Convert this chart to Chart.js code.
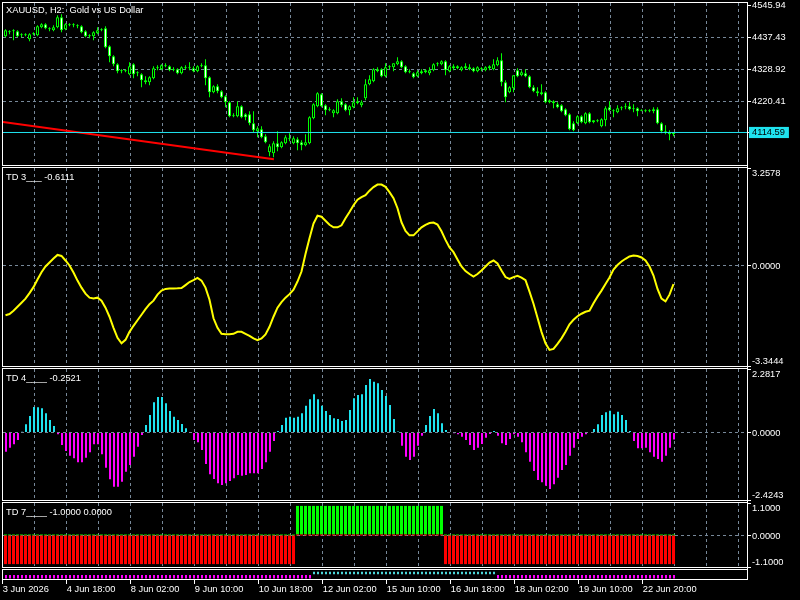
<!DOCTYPE html>
<html>
<head>
<meta charset="utf-8">
<script src="https://cdn.jsdelivr.net/npm/chart.js@4.4.1/dist/chart.umd.min.js"></script>
<style>
  html, body { margin: 0; padding: 0; background: #000; }
  #wrap { position: relative; width: 800px; height: 600px; background: #000; overflow: hidden; }
  #wrap canvas { position: absolute; left: 0; top: 0; }
</style>
</head>
<body>
<div id="wrap">
  <canvas id="price" width="800" height="600"></canvas>
  <canvas id="td3" width="800" height="600"></canvas>
  <canvas id="td4" width="800" height="600"></canvas>
  <canvas id="td7" width="800" height="600"></canvas>
  <canvas id="sig" width="800" height="600"></canvas>
</div>
<script>
// XAUUSD H2, 168 bars
const openP = [
  4440.8, 4454.4, 4457.8, 4457.8, 4444.2, 4444.2, 4430.6, 4447.6, 4444.2, 4471.3,
  4481.5, 4467.9, 4461.2, 4471.3, 4505.2, 4464.6, 4481.5, 4478.1, 4478.1, 4474.7,
  4457.8, 4444.2, 4440.8, 4451.0, 4461.2, 4467.9, 4406.9, 4373.0, 4345.9, 4322.1,
  4322.1, 4312.0, 4345.9, 4315.4, 4312.0, 4291.6, 4284.8, 4298.4, 4332.3, 4328.9,
  4339.1, 4339.1, 4325.5, 4328.9, 4315.4, 4335.7, 4332.3, 4332.3, 4322.1, 4339.1,
  4342.5, 4301.8, 4250.9, 4271.3, 4254.3, 4237.4, 4217.0, 4172.9, 4169.5, 4203.5,
  4176.3, 4176.3, 4145.8, 4118.7, 4125.5, 4101.7, 4047.5, 4044.1, 4078.0, 4064.4,
  4078.0, 4091.6, 4078.0, 4091.6, 4081.4, 4071.2, 4078.0, 4162.8, 4203.5, 4244.1,
  4206.8, 4189.9, 4179.7, 4179.7, 4220.4, 4210.2, 4189.9, 4200.1, 4213.6, 4206.8,
  4230.6, 4278.1, 4288.2, 4328.9, 4328.9, 4305.2, 4335.7, 4335.7, 4345.9, 4356.0,
  4339.1, 4322.1, 4315.4, 4305.2, 4315.4, 4318.7, 4315.4, 4325.5, 4345.9, 4345.9,
  4356.0, 4322.1, 4339.1, 4332.3, 4325.5, 4332.3, 4335.7, 4332.3, 4322.1, 4332.3,
  4325.5, 4332.3, 4328.9, 4342.5, 4359.4, 4284.8, 4250.9, 4264.5, 4325.5, 4308.6,
  4315.4, 4305.2, 4267.9, 4254.3, 4250.9, 4250.9, 4223.8, 4220.4, 4210.2, 4206.8,
  4193.3, 4176.3, 4145.8, 4145.8, 4169.5, 4145.8, 4179.7, 4149.2, 4156.0, 4135.6,
  4156.0, 4200.1, 4189.9, 4183.1, 4200.1, 4200.1, 4203.5, 4196.7, 4196.7, 4189.9,
  4189.9, 4189.9, 4186.5, 4193.3, 4145.8, 4118.7, 4115.3, 4108.5
];
const highP = [
  4464.6, 4461.2, 4464.6, 4461.2, 4451.0, 4451.0, 4451.0, 4454.4, 4478.1, 4484.9,
  4484.9, 4471.3, 4478.1, 4512.0, 4515.4, 4484.9, 4484.9, 4484.9, 4481.5, 4478.1,
  4461.2, 4447.6, 4457.8, 4471.3, 4467.9, 4474.7, 4410.3, 4376.4, 4349.3, 4328.9,
  4328.9, 4352.7, 4349.3, 4322.1, 4315.4, 4305.2, 4305.2, 4339.1, 4342.5, 4345.9,
  4349.3, 4342.5, 4335.7, 4332.3, 4339.1, 4342.5, 4352.7, 4339.1, 4342.5, 4349.3,
  4362.8, 4305.2, 4274.7, 4278.1, 4257.7, 4240.8, 4220.4, 4179.7, 4220.4, 4206.8,
  4179.7, 4186.5, 4186.5, 4135.6, 4135.6, 4108.5, 4074.6, 4084.8, 4118.7, 4084.8,
  4105.1, 4111.9, 4101.7, 4098.3, 4088.2, 4108.5, 4169.5, 4213.6, 4250.9, 4247.5,
  4210.2, 4200.1, 4193.3, 4227.2, 4230.6, 4213.6, 4206.8, 4234.0, 4234.0, 4223.8,
  4295.0, 4308.6, 4332.3, 4335.7, 4332.3, 4349.3, 4342.5, 4349.3, 4369.6, 4359.4,
  4342.5, 4328.9, 4318.7, 4325.5, 4328.9, 4328.9, 4335.7, 4349.3, 4352.7, 4359.4,
  4359.4, 4342.5, 4345.9, 4342.5, 4339.1, 4349.3, 4345.9, 4335.7, 4339.1, 4335.7,
  4339.1, 4342.5, 4362.8, 4369.6, 4383.2, 4291.6, 4271.3, 4308.6, 4332.3, 4325.5,
  4328.9, 4308.6, 4274.7, 4267.9, 4278.1, 4254.3, 4227.2, 4223.8, 4217.0, 4210.2,
  4196.7, 4179.7, 4152.6, 4172.9, 4172.9, 4183.1, 4183.1, 4156.0, 4159.4, 4162.8,
  4203.5, 4220.4, 4193.3, 4206.8, 4203.5, 4213.6, 4217.0, 4210.2, 4200.1, 4193.3,
  4193.3, 4193.3, 4200.1, 4200.1, 4149.2, 4139.0, 4122.1, 4115.3
];
const lowP = [
  4437.4, 4447.6, 4427.3, 4437.4, 4437.4, 4440.8, 4423.9, 4444.2, 4440.8, 4467.9,
  4464.6, 4457.8, 4457.8, 4467.9, 4454.4, 4461.2, 4474.7, 4471.3, 4467.9, 4451.0,
  4437.4, 4434.0, 4427.3, 4447.6, 4457.8, 4400.1, 4352.7, 4339.1, 4315.4, 4315.4,
  4318.7, 4308.6, 4298.4, 4305.2, 4267.9, 4278.1, 4274.7, 4295.0, 4325.5, 4325.5,
  4335.7, 4322.1, 4322.1, 4312.0, 4312.0, 4328.9, 4325.5, 4318.7, 4318.7, 4335.7,
  4274.7, 4234.0, 4247.5, 4247.5, 4230.6, 4200.1, 4166.2, 4166.2, 4166.2, 4162.8,
  4156.0, 4139.0, 4115.3, 4098.3, 4094.9, 4078.0, 4033.9, 4030.5, 4050.9, 4061.0,
  4074.6, 4084.8, 4074.6, 4054.3, 4054.3, 4067.8, 4074.6, 4159.4, 4200.1, 4200.1,
  4172.9, 4186.5, 4166.2, 4176.3, 4200.1, 4186.5, 4172.9, 4196.7, 4210.2, 4200.1,
  4223.8, 4274.7, 4284.8, 4318.7, 4301.8, 4301.8, 4328.9, 4322.1, 4342.5, 4332.3,
  4315.4, 4315.4, 4298.4, 4301.8, 4312.0, 4315.4, 4308.6, 4322.1, 4339.1, 4342.5,
  4308.6, 4318.7, 4325.5, 4328.9, 4322.1, 4328.9, 4325.5, 4318.7, 4318.7, 4322.1,
  4322.1, 4325.5, 4325.5, 4339.1, 4271.3, 4217.0, 4247.5, 4250.9, 4301.8, 4305.2,
  4301.8, 4264.5, 4250.9, 4237.4, 4240.8, 4213.6, 4213.6, 4196.7, 4196.7, 4183.1,
  4169.5, 4122.1, 4118.7, 4142.4, 4145.8, 4142.4, 4145.8, 4145.8, 4149.2, 4132.2,
  4135.6, 4186.5, 4166.2, 4179.7, 4189.9, 4193.3, 4189.9, 4183.1, 4169.5, 4186.5,
  4183.1, 4183.1, 4179.7, 4142.4, 4111.9, 4108.5, 4088.2, 4101.7
];
const closeP = [
  4461.2, 4457.8, 4461.2, 4440.8, 4447.6, 4447.6, 4447.6, 4451.0, 4474.7, 4481.5,
  4467.9, 4464.6, 4471.3, 4505.2, 4461.2, 4481.5, 4478.1, 4481.5, 4474.7, 4454.4,
  4440.8, 4440.8, 4454.4, 4461.2, 4464.6, 4403.5, 4373.0, 4345.9, 4322.1, 4325.5,
  4325.5, 4339.1, 4312.0, 4318.7, 4291.6, 4284.8, 4301.8, 4332.3, 4335.7, 4342.5,
  4342.5, 4325.5, 4328.9, 4315.4, 4335.7, 4332.3, 4335.7, 4322.1, 4339.1, 4342.5,
  4298.4, 4250.9, 4271.3, 4254.3, 4234.0, 4217.0, 4169.5, 4169.5, 4203.5, 4166.2,
  4166.2, 4145.8, 4122.1, 4128.9, 4098.3, 4081.4, 4067.8, 4078.0, 4064.4, 4081.4,
  4098.3, 4094.9, 4094.9, 4078.0, 4071.2, 4081.4, 4166.2, 4210.2, 4247.5, 4203.5,
  4189.9, 4193.3, 4189.9, 4220.4, 4206.8, 4189.9, 4203.5, 4217.0, 4220.4, 4217.0,
  4278.1, 4295.0, 4328.9, 4322.1, 4305.2, 4335.7, 4339.1, 4349.3, 4356.0, 4335.7,
  4318.7, 4318.7, 4301.8, 4318.7, 4322.1, 4325.5, 4325.5, 4345.9, 4349.3, 4356.0,
  4325.5, 4339.1, 4332.3, 4339.1, 4335.7, 4339.1, 4328.9, 4322.1, 4335.7, 4328.9,
  4335.7, 4339.1, 4345.9, 4359.4, 4284.8, 4234.0, 4267.9, 4308.6, 4305.2, 4318.7,
  4305.2, 4267.9, 4254.3, 4247.5, 4244.1, 4217.0, 4217.0, 4213.6, 4200.1, 4186.5,
  4172.9, 4125.5, 4122.1, 4169.5, 4149.2, 4179.7, 4149.2, 4156.0, 4152.6, 4159.4,
  4196.7, 4189.9, 4186.5, 4196.7, 4196.7, 4203.5, 4193.3, 4193.3, 4186.5, 4188.5,
  4186.5, 4186.5, 4193.3, 4145.8, 4118.7, 4115.3, 4108.5, 4114.59
];
const bidPrice = 4114.59;
const priceTicks = [4545.94, 4437.43, 4328.92, 4220.41];
const trendLine = [{bar: -0.625, price: 4150.2}, {bar: 67.1, price: 4023.7}];

const td3 = [
  -1.652, -1.612, -1.501, -1.367, -1.233, -1.099, -0.915, -0.714, -0.462, -0.218,
  -0.027, 0.107, 0.241, 0.359, 0.325, 0.174, 0.007, -0.228, -0.496, -0.731,
  -0.932, -1.066, -1.089, -1.066, -1.166, -1.401, -1.702, -2.071, -2.406, -2.590,
  -2.473, -2.205, -2.004, -1.820, -1.635, -1.451, -1.284, -1.166, -0.965, -0.831,
  -0.774, -0.764, -0.757, -0.754, -0.747, -0.647, -0.546, -0.479, -0.405, -0.496,
  -0.731, -1.133, -1.753, -2.071, -2.272, -2.282, -2.282, -2.272, -2.205, -2.205,
  -2.272, -2.339, -2.423, -2.483, -2.423, -2.289, -2.038, -1.702, -1.401, -1.216,
  -1.066, -0.948, -0.798, -0.529, -0.194, 0.392, 0.912, 1.404, 1.666, 1.632,
  1.498, 1.364, 1.280, 1.280, 1.347, 1.582, 1.793, 2.017, 2.202, 2.286,
  2.353, 2.503, 2.621, 2.704, 2.704, 2.631, 2.453, 2.252, 1.917, 1.448,
  1.163, 1.012, 1.012, 1.146, 1.280, 1.364, 1.421, 1.438, 1.371, 1.146,
  0.861, 0.610, 0.452, 0.208, -0.027, -0.178, -0.278, -0.362, -0.278, -0.161,
  -0.027, 0.107, 0.174, 0.074, -0.161, -0.379, -0.439, -0.379, -0.335, -0.395,
  -0.479, -0.865, -1.267, -1.736, -2.205, -2.590, -2.808, -2.775, -2.607, -2.423,
  -2.205, -1.954, -1.803, -1.686, -1.602, -1.535, -1.501, -1.250, -1.032, -0.831,
  -0.607, -0.395, -0.127, 0.023, 0.141, 0.231, 0.308, 0.342, 0.325, 0.275,
  0.174, -0.027, -0.328, -0.774, -1.099, -1.190, -0.965, -0.6111
];
const td4 = [
  -0.690, -0.546, -0.424, -0.269, 0.030, 0.295, 0.593, 0.916, 0.905, 0.869,
  0.690, 0.449, 0.233, -0.065, -0.449, -0.665, -0.833, -0.927, -1.070, -1.070,
  -0.905, -0.711, -0.424, -0.424, -0.783, -1.264, -1.681, -1.947, -1.947, -1.767,
  -1.408, -1.167, -0.869, -0.510, -0.090, 0.269, 0.629, 1.085, 1.275, 1.275,
  1.049, 0.772, 0.568, 0.449, 0.305, 0.151, -0.020, -0.269, -0.352, -0.629,
  -1.131, -1.501, -1.670, -1.825, -1.886, -1.825, -1.742, -1.645, -1.527, -1.552,
  -1.527, -1.466, -1.466, -1.466, -1.311, -1.070, -0.690, -0.305, 0.054, 0.269,
  0.532, 0.568, 0.532, 0.568, 0.690, 0.963, 1.193, 1.372, 1.193, 0.963,
  0.772, 0.629, 0.510, 0.485, 0.413, 0.449, 0.808, 1.228, 1.347, 1.372,
  1.706, 1.922, 1.825, 1.767, 1.527, 1.311, 0.988, 0.485, 0.040, -0.474,
  -0.869, -0.988, -0.869, -0.474, -0.115, 0.269, 0.593, 0.844, 0.690, 0.330,
  0.090, 0.020, -0.030, -0.065, -0.151, -0.269, -0.449, -0.629, -0.546, -0.413,
  -0.187, -0.054, 0.054, -0.115, -0.388, -0.449, -0.233, -0.065, -0.151, -0.352,
  -0.711, -1.049, -1.383, -1.706, -1.789, -1.911, -2.029, -1.861, -1.624, -1.347,
  -1.167, -0.833, -0.546, -0.233, -0.151, -0.065, 0.020, 0.126, 0.295, 0.629,
  0.726, 0.783, 0.654, 0.747, 0.629, 0.449, 0.054, -0.305, -0.568, -0.568,
  -0.546, -0.711, -0.869, -0.952, -1.049, -0.833, -0.546, -0.2521
];
const td7 = [
  -1, -1, -1, -1, -1, -1, -1, -1, -1, -1,
  -1, -1, -1, -1, -1, -1, -1, -1, -1, -1,
  -1, -1, -1, -1, -1, -1, -1, -1, -1, -1,
  -1, -1, -1, -1, -1, -1, -1, -1, -1, -1,
  -1, -1, -1, -1, -1, -1, -1, -1, -1, -1,
  -1, -1, -1, -1, -1, -1, -1, -1, -1, -1,
  -1, -1, -1, -1, -1, -1, -1, -1, -1, -1,
  -1, -1, -1, 1, 1, 1, 1, 1, 1, 1,
  1, 1, 1, 1, 1, 1, 1, 1, 1, 1,
  1, 1, 1, 1, 1, 1, 1, 1, 1, 1,
  1, 1, 1, 1, 1, 1, 1, 1, 1, 1,
  -1, -1, -1, -1, -1, -1, -1, -1, -1, -1,
  -1, -1, -1, -1, -1, -1, -1, -1, -1, -1,
  -1, -1, -1, -1, -1, -1, -1, -1, -1, -1,
  -1, -1, -1, -1, -1, -1, -1, -1, -1, -1,
  -1, -1, -1, -1, -1, -1, -1, -1, -1, -1,
  -1, -1, -1, -1, -1, -1, -1, -1
];
const signal = [
  -1, -1, -1, -1, -1, -1, -1, -1, -1, -1,
  -1, -1, -1, -1, -1, -1, -1, -1, -1, -1,
  -1, -1, -1, -1, -1, -1, -1, -1, -1, -1,
  -1, -1, -1, -1, -1, -1, -1, -1, -1, -1,
  -1, -1, -1, -1, -1, -1, -1, -1, -1, -1,
  -1, -1, -1, -1, -1, -1, -1, -1, -1, -1,
  -1, -1, -1, -1, -1, -1, -1, -1, -1, -1,
  -1, -1, -1, -1, -1, -1, -1, 1, 1, 1,
  1, 1, 1, 1, 1, 1, 1, 1, 1, 1,
  1, 1, 1, 1, 1, 1, 1, 1, 1, 1,
  1, 1, 1, 1, 1, 1, 1, 1, 1, 1,
  1, 1, 1, 1, 1, 1, 1, 1, 1, 1,
  1, 1, 1, -1, -1, -1, -1, -1, -1, -1,
  -1, -1, -1, -1, -1, -1, -1, -1, -1, -1,
  -1, -1, -1, -1, -1, -1, -1, -1, -1, -1,
  -1, -1, -1, -1, -1, -1, -1, -1, -1, -1,
  -1, -1, -1, -1, -1, -1, -1, -1
];

const timeLabels = ['3 Jun 2026', '4 Jun 18:00', '8 Jun 02:00', '9 Jun 10:00', '10 Jun 18:00',
  '12 Jun 02:00', '15 Jun 10:00', '16 Jun 18:00', '18 Jun 02:00', '19 Jun 10:00', '22 Jun 20:00'];
const timeLabelBars = [0, 16, 32, 48, 64, 80, 96, 112, 128, 144, 160];

// look
const CYAN = '#1fe3ef';
const DOT_CYAN = '#4cd6d8';
const MAGENTA = '#ff00ff';
const LIME = '#00ff00';
const RED = '#ff0000';
const GRID = '#778899';
const FONT = {family: '"Liberation Sans", Arial, sans-serif', size: 9.3};
const FONT_CSS = '9.3px "Liberation Sans", Arial, sans-serif';
const X_MIN = -0.625, X_MAX = 185.375;        // 4 px per bar
const PRICE_MIN = 4004.37, PRICE_MAX = 4553.7;

const bars = closeP.map((_, i) => i);

function xAxis(shift, labelled) {
  const ax = {
    type: 'linear', min: X_MIN - shift, max: X_MAX - shift, offset: false,
    border: {display: false, dash: [3, 3]},
    afterFit: s => { s.height = labelled ? 21 : 0; s.paddingLeft = 0; s.paddingRight = 0; }
  };
  if (labelled) {
    ax.grid = {offset: false, drawOnChartArea: false, drawTicks: true, tickLength: 5, tickColor: '#ffffff'};
    ax.ticks = {display: true, color: '#ffffff', font: FONT, autoSkip: false, maxRotation: 0, minRotation: 0,
      align: 'start', padding: 0, callback: (v, i) => timeLabels[i]};
    ax.afterBuildTicks = s => { s.ticks = timeLabelBars.map(b => ({value: b - 0.8})); };
  } else {
    ax.grid = {offset: false, color: GRID, drawTicks: false};
    ax.ticks = {display: false};
    ax.afterBuildTicks = s => {
      const t = [];
      for (let v = 7.2; v < X_MAX; v += 8) t.push({value: v});
      s.ticks = t;
    };
  }
  return ax;
}

function indicatorAxis(min, max) {
  return {
    position: 'right', min: min, max: max,
    border: {display: false, dash: [3, 3]},
    grid: {color: c => (c.tick && c.tick.value === 0) ? GRID : 'rgba(0,0,0,0)', drawTicks: true, tickLength: 4, tickColor: '#ffffff'},
    ticks: {display: false},
    afterBuildTicks: s => { s.ticks = [{value: max}, {value: 0}, {value: min}]; },
    afterFit: s => { s.width = 53; s.paddingTop = 0; s.paddingBottom = 0; }
  };
}

const paneFrame = {
  id: 'paneFrame',
  afterDraw(chart, args, opts) {
    const ctx = chart.ctx, a = chart.chartArea;
    ctx.save();
    ctx.strokeStyle = '#ffffff';
    ctx.lineWidth = 1;
    ctx.strokeRect(a.left - 0.5, a.top - 0.5, a.right - a.left + 1, a.bottom - a.top + 1);
    ctx.fillStyle = '#ffffff';
    ctx.font = FONT_CSS;
    ctx.textBaseline = 'alphabetic';
    ctx.textAlign = 'left';
    if (opts.title) ctx.fillText(opts.title, 6, a.top + opts.titleDy);
    if (opts.edgeLabels) {
      const s = chart.scales.y;
      s.ticks.forEach(t => {
        let yb = s.getPixelForValue(t.value) + 3.5;
        if (t.value === s.max) yb = a.top + 8;
        else if (t.value === s.min) yb = a.bottom - 2;
        ctx.fillText(t.value.toFixed(4), s.left + 5, yb);
      });
    }
    if (opts.axisLine) {
      ctx.beginPath();
      ctx.moveTo(a.right + 0.5, 2);
      ctx.lineTo(a.right + 0.5, a.bottom + 1);
      ctx.stroke();
    }
    ctx.restore();
  }
};

function baseOptions(top, bottom, scales, frame) {
  return {
    responsive: false, animation: false, devicePixelRatio: 1, events: [],
    layout: {padding: {left: 3, right: 0, top: top, bottom: bottom}},
    plugins: {legend: {display: false}, tooltip: {enabled: false}, paneFrame: frame},
    scales: scales
  };
}

// price pane
new Chart(document.getElementById('price'), {
  type: 'bar',
  data: {datasets: [
    {type: 'line', data: [{x: X_MIN, y: bidPrice}, {x: X_MAX, y: bidPrice}], borderColor: CYAN, borderWidth: 1, pointRadius: 0, order: 0},
    {type: 'line', data: trendLine.map(p => ({x: p.bar, y: p.price})), borderColor: RED, borderWidth: 2, pointRadius: 0, order: 0},
    {type: 'bar', data: bars.map(i => ({x: i, y: [lowP[i], highP[i]]})), backgroundColor: LIME,
      barThickness: 1, inflateAmount: 0, grouped: false, order: 2},
    {type: 'bar', data: bars.map(i => ({x: i, y: [openP[i], closeP[i]]})),
      backgroundColor: c => closeP[c.dataIndex] < openP[c.dataIndex] ? '#ffffff' : '#000000',
      borderColor: LIME, borderWidth: 1, borderSkipped: false, barThickness: 3, inflateAmount: 0,
      minBarLength: 1, grouped: false, order: 1}
  ]},
  options: baseOptions(3, 600 - 165, {
    x: xAxis(0, false),
    y: {
      position: 'right', min: PRICE_MIN, max: PRICE_MAX,
      border: {display: false, dash: [3, 3]},
      grid: {color: c => (c.index === 0 || c.index === priceTicks.length) ? 'rgba(0,0,0,0)' : GRID,
        drawTicks: true, tickLength: 4, tickColor: '#ffffff'},
      ticks: {
        autoSkip: false, font: FONT, padding: 1, crossAlign: 'near',
        color: c => c.index === priceTicks.length ? '#000000' : '#ffffff',
        showLabelBackdrop: c => c.index === priceTicks.length,
        backdropColor: CYAN, backdropPadding: {left: 3, right: 4, top: 0, bottom: 0},
        callback: v => v.toFixed(2)
      },
      afterBuildTicks: s => { s.ticks = priceTicks.concat([bidPrice]).map(v => ({value: v})); },
      afterFit: s => { s.width = 53; s.paddingTop = 0; s.paddingBottom = 0; }
    }
  }, {title: 'XAUUSD, H2:  Gold vs US Dollar', titleDy: 10}),
  plugins: [paneFrame]
});

// TD 3 line
new Chart(document.getElementById('td3'), {
  type: 'line',
  data: {datasets: [{data: td3.map((v, i) => ({x: i, y: v})), borderColor: '#ffff00', borderWidth: 2, pointRadius: 0, tension: 0}]},
  options: baseOptions(168, 600 - 366, {x: xAxis(0, false), y: indicatorAxis(-3.3444, 3.2578)},
    {title: 'TD 3___ -0.6111', titleDy: 12, edgeLabels: true}),
  plugins: [paneFrame]
});

// TD 4 histogram
new Chart(document.getElementById('td4'), {
  type: 'bar',
  data: {datasets: [{data: td4.map((v, i) => ({x: i, y: v})),
    backgroundColor: c => td4[c.dataIndex] >= 0 ? CYAN : MAGENTA, barThickness: 2, inflateAmount: 0, grouped: false}]},
  options: baseOptions(369, 600 - 500, {x: xAxis(0.125, false), y: indicatorAxis(-2.4243, 2.2817)},
    {title: 'TD 4____ -0.2521', titleDy: 12, edgeLabels: true}),
  plugins: [paneFrame]
});

// TD 7 up / down blocks
new Chart(document.getElementById('td7'), {
  type: 'bar',
  data: {datasets: [
    {data: td7.map((v, i) => ({x: i, y: v < 0 ? v : 0})), backgroundColor: RED, barThickness: 3, inflateAmount: 0, minBarLength: 1, grouped: false},
    {data: td7.map((v, i) => ({x: i, y: v > 0 ? v : 0})), backgroundColor: LIME, barThickness: 3, inflateAmount: 0, minBarLength: 1, grouped: false}
  ]},
  options: baseOptions(503, 600 - 567, {x: xAxis(0, false), y: indicatorAxis(-1.1, 1.1)},
    {title: 'TD 7____ -1.0000 0.0000', titleDy: 12, edgeLabels: true}),
  plugins: [paneFrame]
});

// signal strip + time axis
new Chart(document.getElementById('sig'), {
  type: 'bar',
  data: {datasets: [{data: signal.map((s, i) => ({x: i, y: s > 0 ? [4.7, 7.3] : [0.5, 4]})),
    backgroundColor: c => signal[c.dataIndex] > 0 ? DOT_CYAN : MAGENTA, barThickness: 2, inflateAmount: 0, grouped: false}]},
  options: baseOptions(570, 0, {
    x: xAxis(0.125, true),
    y: {position: 'right', min: 0, max: 9, grid: {display: false}, ticks: {display: false}, border: {display: false},
      afterFit: s => { s.width = 53; s.paddingTop = 0; s.paddingBottom = 0; }}
  }, {axisLine: true}),
  plugins: [paneFrame]
});
</script>
</body>
</html>
